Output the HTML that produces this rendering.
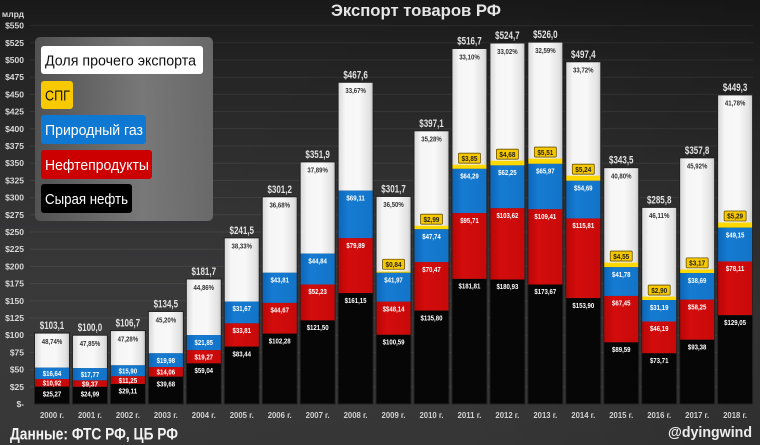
<!DOCTYPE html>
<html><head><meta charset="utf-8"><style>
html,body{margin:0;padding:0;background:#2a2a2a;}
svg{display:block;}
text{font-family:"Liberation Sans","DejaVu Sans",sans-serif;}
.s{font-size:7.5px;font-weight:bold;fill:#fff;text-anchor:middle;}
.p{font-size:7.5px;font-weight:bold;fill:#333;text-anchor:middle;}
.t{font-size:11px;font-weight:bold;fill:#e2e2e2;text-anchor:middle;}
.y{font-size:7.5px;font-weight:bold;fill:#222;text-anchor:middle;}
.ax{font-size:8.5px;font-weight:bold;fill:#d8d8d8;text-anchor:end;}
.yr{font-size:8.5px;font-weight:bold;fill:#d2d2d2;text-anchor:middle;}
.lg{font-size:15px;}
</style></head><body>
<svg width="760" height="445" viewBox="0 0 760 445" xmlns="http://www.w3.org/2000/svg">
<defs>
<linearGradient id="bg" x1="0" y1="0" x2="0" y2="1">
<stop offset="0" stop-color="#191919"/><stop offset="0.15" stop-color="#242424"/><stop offset="0.45" stop-color="#333334"/><stop offset="0.7" stop-color="#3a3a3b"/><stop offset="1" stop-color="#373737"/>
</linearGradient>
<linearGradient id="bgh" x1="0" y1="0" x2="1" y2="0">
<stop offset="0" stop-color="#000" stop-opacity="0"/><stop offset="0.6" stop-color="#000" stop-opacity="0.02"/><stop offset="1" stop-color="#000" stop-opacity="0.15"/>
</linearGradient>
<linearGradient id="gW" x1="0" y1="0" x2="1" y2="0">
<stop offset="0" stop-color="#d6d6d6"/><stop offset="0.2" stop-color="#f6f6f6"/><stop offset="0.6" stop-color="#f8f8f8"/><stop offset="0.9" stop-color="#e2e2e2"/><stop offset="1" stop-color="#c4c4c4"/>
</linearGradient>
<linearGradient id="gB" x1="0" y1="0" x2="1" y2="0">
<stop offset="0" stop-color="#0b66b8"/><stop offset="0.3" stop-color="#167bd2"/><stop offset="1" stop-color="#1274c8"/>
</linearGradient>
<linearGradient id="gR" x1="0" y1="0" x2="1" y2="0">
<stop offset="0" stop-color="#b80606"/><stop offset="0.3" stop-color="#d40c0c"/><stop offset="1" stop-color="#c80a0a"/>
</linearGradient>
<linearGradient id="gL" x1="0" y1="0" x2="1" y2="0">
<stop offset="0" stop-color="#545454"/><stop offset="0.6" stop-color="#7c7c7c"/><stop offset="1" stop-color="#6c6c6c"/>
</linearGradient>
</defs>
<rect x="0" y="0" width="760" height="445" fill="url(#bg)"/>
<rect x="0" y="0" width="760" height="445" fill="url(#bgh)"/>

<g stroke="#ffffff" stroke-opacity="0.07" stroke-width="1">
<line x1="30" x2="753" y1="386.8" y2="386.8"/><line x1="30" x2="753" y1="369.6" y2="369.6"/><line x1="30" x2="753" y1="352.4" y2="352.4"/><line x1="30" x2="753" y1="335.2" y2="335.2"/><line x1="30" x2="753" y1="318" y2="318"/><line x1="30" x2="753" y1="300.8" y2="300.8"/><line x1="30" x2="753" y1="283.6" y2="283.6"/><line x1="30" x2="753" y1="266.4" y2="266.4"/><line x1="30" x2="753" y1="249.2" y2="249.2"/><line x1="30" x2="753" y1="232" y2="232"/><line x1="30" x2="753" y1="214.8" y2="214.8"/><line x1="30" x2="753" y1="197.6" y2="197.6"/><line x1="30" x2="753" y1="180.4" y2="180.4"/><line x1="30" x2="753" y1="163.2" y2="163.2"/><line x1="30" x2="753" y1="146" y2="146"/><line x1="30" x2="753" y1="128.8" y2="128.8"/><line x1="30" x2="753" y1="111.6" y2="111.6"/><line x1="30" x2="753" y1="94.4" y2="94.4"/><line x1="30" x2="753" y1="77.2" y2="77.2"/><line x1="30" x2="753" y1="60" y2="60"/><line x1="30" x2="753" y1="42.8" y2="42.8"/><line x1="30" x2="753" y1="25.6" y2="25.6"/>
</g>

<!-- Y axis labels -->
<text class="ax" x="24" y="17">млрд</text>
<text class="ax" x="24" y="28.6">$550</text>
<text class="ax" x="24" y="45.8">$525</text>
<text class="ax" x="24" y="63">$500</text>
<text class="ax" x="24" y="80.2">$475</text>
<text class="ax" x="24" y="97.4">$450</text>
<text class="ax" x="24" y="114.6">$425</text>
<text class="ax" x="24" y="131.8">$400</text>
<text class="ax" x="24" y="149">$375</text>
<text class="ax" x="24" y="166.2">$350</text>
<text class="ax" x="24" y="183.4">$325</text>
<text class="ax" x="24" y="200.6">$300</text>
<text class="ax" x="24" y="217.8">$275</text>
<text class="ax" x="24" y="235">$250</text>
<text class="ax" x="24" y="252.2">$225</text>
<text class="ax" x="24" y="269.4">$200</text>
<text class="ax" x="24" y="286.6">$175</text>
<text class="ax" x="24" y="303.8">$150</text>
<text class="ax" x="24" y="321">$125</text>
<text class="ax" x="24" y="338.2">$100</text>
<text class="ax" x="24" y="355.4">$75</text>
<text class="ax" x="24" y="372.6">$50</text>
<text class="ax" x="24" y="389.8">$25</text>
<text class="ax" x="24" y="407">$-</text>

<!-- Title -->
<text x="331" y="16" font-size="17" font-weight="bold" fill="#e6e6e6" textLength="170" lengthAdjust="spacingAndGlyphs">Экспорт товаров РФ</text>

<!-- Bars -->
<g>
<!-- 2000 -->
<rect x="34.5" y="333.07" width="35" height="34.58" fill="url(#gW)"/>
<rect x="34.5" y="367.65" width="35" height="11.45" fill="url(#gB)"/>
<rect x="34.5" y="379.10" width="35" height="7.51" fill="url(#gR)"/>
<rect x="34.5" y="386.61" width="35" height="17.39" fill="#060606"/>
<rect x="34.5" y="333.07" width="35" height="70.93" fill="none" stroke="#222" stroke-width="1"/>
<!-- 2001 -->
<rect x="72.45" y="335.2" width="35" height="32.93" fill="url(#gW)"/>
<rect x="72.45" y="368.13" width="35" height="12.23" fill="url(#gB)"/>
<rect x="72.45" y="380.36" width="35" height="6.45" fill="url(#gR)"/>
<rect x="72.45" y="386.81" width="35" height="17.19" fill="#060606"/>
<rect x="72.45" y="335.2" width="35" height="68.8" fill="none" stroke="#222" stroke-width="1"/>
<!-- 2002 -->
<rect x="110.4" y="330.59" width="35" height="34.7" fill="url(#gW)"/>
<rect x="110.4" y="365.29" width="35" height="10.94" fill="url(#gB)"/>
<rect x="110.4" y="376.23" width="35" height="7.74" fill="url(#gR)"/>
<rect x="110.4" y="383.97" width="35" height="20.03" fill="#060606"/>
<rect x="110.4" y="330.59" width="35" height="73.41" fill="none" stroke="#222" stroke-width="1"/>
<!-- 2003 -->
<rect x="148.35" y="311.46" width="35" height="41.82" fill="url(#gW)"/>
<rect x="148.35" y="353.28" width="35" height="13.75" fill="url(#gB)"/>
<rect x="148.35" y="367.03" width="35" height="9.67" fill="url(#gR)"/>
<rect x="148.35" y="376.70" width="35" height="27.3" fill="#060606"/>
<rect x="148.35" y="311.46" width="35" height="92.54" fill="none" stroke="#222" stroke-width="1"/>
<!-- 2004 -->
<rect x="186.3" y="278.99" width="35" height="56.1" fill="url(#gW)"/>
<rect x="186.3" y="335.09" width="35" height="15.03" fill="url(#gB)"/>
<rect x="186.3" y="350.12" width="35" height="13.26" fill="url(#gR)"/>
<rect x="186.3" y="363.38" width="35" height="40.62" fill="#060606"/>
<rect x="186.3" y="278.99" width="35" height="125.01" fill="none" stroke="#222" stroke-width="1"/>
<!-- 2005 -->
<rect x="224.25" y="237.85" width="35" height="63.69" fill="url(#gW)"/>
<rect x="224.25" y="301.54" width="35" height="21.79" fill="url(#gB)"/>
<rect x="224.25" y="323.33" width="35" height="23.26" fill="url(#gR)"/>
<rect x="224.25" y="346.59" width="35" height="57.41" fill="#060606"/>
<rect x="224.25" y="237.85" width="35" height="166.15" fill="none" stroke="#222" stroke-width="1"/>
<!-- 2006 -->
<rect x="262.2" y="196.77" width="35" height="75.99" fill="url(#gW)"/>
<rect x="262.2" y="272.76" width="35" height="30.14" fill="url(#gB)"/>
<rect x="262.2" y="302.90" width="35" height="30.73" fill="url(#gR)"/>
<rect x="262.2" y="333.63" width="35" height="70.37" fill="#060606"/>
<rect x="262.2" y="196.77" width="35" height="207.23" fill="none" stroke="#222" stroke-width="1"/>
<!-- 2007 -->
<rect x="300.15" y="161.89" width="35" height="91.73" fill="url(#gW)"/>
<rect x="300.15" y="253.62" width="35" height="30.85" fill="url(#gB)"/>
<rect x="300.15" y="284.47" width="35" height="35.94" fill="url(#gR)"/>
<rect x="300.15" y="320.41" width="35" height="83.59" fill="#060606"/>
<rect x="300.15" y="161.89" width="35" height="242.11" fill="none" stroke="#222" stroke-width="1"/>
<!-- 2008 -->
<rect x="338.1" y="82.29" width="35" height="108.33" fill="url(#gW)"/>
<rect x="338.1" y="190.62" width="35" height="47.54" fill="url(#gB)"/>
<rect x="338.1" y="238.16" width="35" height="54.97" fill="url(#gR)"/>
<rect x="338.1" y="293.13" width="35" height="110.87" fill="#060606"/>
<rect x="338.1" y="82.29" width="35" height="321.71" fill="none" stroke="#222" stroke-width="1"/>
<!-- 2009 -->
<rect x="376.05" y="196.43" width="35" height="75.79" fill="url(#gW)"/>
<rect x="376.05" y="271.5" width="35" height="1.3" fill="#ffd800"/>
<rect x="376.05" y="272.80" width="35" height="28.87" fill="url(#gB)"/>
<rect x="376.05" y="301.67" width="35" height="33.12" fill="url(#gR)"/>
<rect x="376.05" y="334.79" width="35" height="69.21" fill="#060606"/>
<rect x="376.05" y="196.43" width="35" height="207.57" fill="none" stroke="#222" stroke-width="1"/>
<!-- 2010 -->
<rect x="414" y="130.80" width="35" height="96.38" fill="url(#gW)"/>
<rect x="414" y="225.7" width="35" height="3.54" fill="#ffd800"/>
<rect x="414" y="229.24" width="35" height="32.85" fill="url(#gB)"/>
<rect x="414" y="262.09" width="35" height="48.48" fill="url(#gR)"/>
<rect x="414" y="310.57" width="35" height="93.43" fill="#060606"/>
<rect x="414" y="130.80" width="35" height="273.2" fill="none" stroke="#222" stroke-width="1"/>
<!-- 2011 -->
<rect x="451.95" y="48.51" width="35" height="117.68" fill="url(#gW)"/>
<rect x="451.95" y="164.7" width="35" height="4.14" fill="#ffd800"/>
<rect x="451.95" y="168.84" width="35" height="44.23" fill="url(#gB)"/>
<rect x="451.95" y="213.07" width="35" height="65.84" fill="url(#gR)"/>
<rect x="451.95" y="278.91" width="35" height="125.09" fill="#060606"/>
<rect x="451.95" y="48.51" width="35" height="355.49" fill="none" stroke="#222" stroke-width="1"/>
<!-- 2012 -->
<rect x="489.9" y="43.0" width="35" height="119.18" fill="url(#gW)"/>
<rect x="489.9" y="160.7" width="35" height="4.7" fill="#ffd800"/>
<rect x="489.9" y="165.40" width="35" height="42.83" fill="url(#gB)"/>
<rect x="489.9" y="208.23" width="35" height="71.29" fill="url(#gR)"/>
<rect x="489.9" y="279.52" width="35" height="124.48" fill="#060606"/>
<rect x="489.9" y="43.0" width="35" height="361" fill="none" stroke="#222" stroke-width="1"/>
<!-- 2013 -->
<rect x="527.85" y="42.11" width="35" height="117.95" fill="url(#gW)"/>
<rect x="527.85" y="158.6" width="35" height="5.25" fill="#ffd800"/>
<rect x="527.85" y="163.85" width="35" height="45.39" fill="url(#gB)"/>
<rect x="527.85" y="209.24" width="35" height="75.27" fill="url(#gR)"/>
<rect x="527.85" y="284.51" width="35" height="119.49" fill="#060606"/>
<rect x="527.85" y="42.11" width="35" height="361.89" fill="none" stroke="#222" stroke-width="1"/>
<!-- 2014 -->
<rect x="565.8" y="61.79" width="35" height="115.42" fill="url(#gW)"/>
<rect x="565.8" y="175.7" width="35" height="5.11" fill="#ffd800"/>
<rect x="565.8" y="180.81" width="35" height="37.63" fill="url(#gB)"/>
<rect x="565.8" y="218.44" width="35" height="79.68" fill="url(#gR)"/>
<rect x="565.8" y="298.12" width="35" height="105.88" fill="#060606"/>
<rect x="565.8" y="61.79" width="35" height="342.21" fill="none" stroke="#222" stroke-width="1"/>
<!-- 2015 -->
<rect x="603.75" y="167.67" width="35" height="96.41" fill="url(#gW)"/>
<rect x="603.75" y="262.6" width="35" height="4.61" fill="#ffd800"/>
<rect x="603.75" y="267.21" width="35" height="28.75" fill="url(#gB)"/>
<rect x="603.75" y="295.96" width="35" height="46.4" fill="url(#gR)"/>
<rect x="603.75" y="342.36" width="35" height="61.64" fill="#060606"/>
<rect x="603.75" y="167.67" width="35" height="236.33" fill="none" stroke="#222" stroke-width="1"/>
<!-- 2016 -->
<rect x="641.7" y="207.37" width="35" height="90.68" fill="url(#gW)"/>
<rect x="641.7" y="296.6" width="35" height="3.45" fill="#ffd800"/>
<rect x="641.7" y="300.05" width="35" height="21.46" fill="url(#gB)"/>
<rect x="641.7" y="321.51" width="35" height="31.78" fill="url(#gR)"/>
<rect x="641.7" y="353.29" width="35" height="50.71" fill="#060606"/>
<rect x="641.7" y="207.37" width="35" height="196.63" fill="none" stroke="#222" stroke-width="1"/>
<!-- 2017 -->
<rect x="679.65" y="157.83" width="35" height="113.05" fill="url(#gW)"/>
<rect x="679.65" y="269.4" width="35" height="3.66" fill="#ffd800"/>
<rect x="679.65" y="273.06" width="35" height="26.62" fill="url(#gB)"/>
<rect x="679.65" y="299.68" width="35" height="40.07" fill="url(#gR)"/>
<rect x="679.65" y="339.75" width="35" height="64.25" fill="#060606"/>
<rect x="679.65" y="157.83" width="35" height="246.17" fill="none" stroke="#222" stroke-width="1"/>
<!-- 2018 -->
<rect x="717.6" y="94.88" width="35" height="129.14" fill="url(#gW)"/>
<rect x="717.6" y="222.5" width="35" height="5.16" fill="#ffd800"/>
<rect x="717.6" y="227.66" width="35" height="33.81" fill="url(#gB)"/>
<rect x="717.6" y="261.47" width="35" height="53.74" fill="url(#gR)"/>
<rect x="717.6" y="315.21" width="35" height="88.79" fill="#060606"/>
<rect x="717.6" y="94.88" width="35" height="309.12" fill="none" stroke="#222" stroke-width="1"/>
</g>

<!-- Yellow label boxes -->
<g fill="#f6c800" stroke="#6b5200" stroke-width="0.8">
<rect x="382.55" y="259.22" width="22" height="10" rx="1"/>
<rect x="420.5" y="214.18" width="22" height="10" rx="1"/>
<rect x="458.45" y="153.19" width="22" height="10" rx="1"/>
<rect x="496.4" y="149.18" width="22" height="10" rx="1"/>
<rect x="534.35" y="147.06" width="22" height="10" rx="1"/>
<rect x="572.3" y="164.21" width="22" height="10" rx="1"/>
<rect x="610.25" y="251.08" width="22" height="10" rx="1"/>
<rect x="648.2" y="285.05" width="22" height="10" rx="1"/>
<rect x="686.15" y="257.88" width="22" height="10" rx="1"/>
<rect x="724.1" y="211.02" width="22" height="10" rx="1"/>
</g>
<g lengthAdjust="spacingAndGlyphs">
<text class="y" x="393.55" y="266.92" textLength="16" lengthAdjust="spacingAndGlyphs">$0,84</text>
<text class="y" x="431.5" y="221.88" textLength="16" lengthAdjust="spacingAndGlyphs">$2,99</text>
<text class="y" x="469.45" y="160.89" textLength="16" lengthAdjust="spacingAndGlyphs">$3,85</text>
<text class="y" x="507.4" y="156.88" textLength="16" lengthAdjust="spacingAndGlyphs">$4,68</text>
<text class="y" x="545.35" y="154.76" textLength="16" lengthAdjust="spacingAndGlyphs">$5,51</text>
<text class="y" x="583.3" y="171.91" textLength="16" lengthAdjust="spacingAndGlyphs">$5,24</text>
<text class="y" x="621.25" y="258.78" textLength="16" lengthAdjust="spacingAndGlyphs">$4,55</text>
<text class="y" x="659.2" y="292.75" textLength="16" lengthAdjust="spacingAndGlyphs">$2,90</text>
<text class="y" x="697.15" y="265.58" textLength="16" lengthAdjust="spacingAndGlyphs">$3,17</text>
<text class="y" x="735.1" y="218.72" textLength="16" lengthAdjust="spacingAndGlyphs">$5,29</text>
</g>

<!-- Totals -->
<text class="t" x="52" y="329.1" textLength="24.5" lengthAdjust="spacingAndGlyphs">$103,1</text>
<text class="t" x="89.95" y="331.2" textLength="24.5" lengthAdjust="spacingAndGlyphs">$100,0</text>
<text class="t" x="127.9" y="326.6" textLength="24.5" lengthAdjust="spacingAndGlyphs">$106,7</text>
<text class="t" x="165.85" y="307.46" textLength="24.5" lengthAdjust="spacingAndGlyphs">$134,5</text>
<text class="t" x="203.8" y="274.99" textLength="24.5" lengthAdjust="spacingAndGlyphs">$181,7</text>
<text class="t" x="241.75" y="233.85" textLength="24.5" lengthAdjust="spacingAndGlyphs">$241,5</text>
<text class="t" x="279.7" y="192.77" textLength="24.5" lengthAdjust="spacingAndGlyphs">$301,2</text>
<text class="t" x="317.65" y="157.89" textLength="24.5" lengthAdjust="spacingAndGlyphs">$351,9</text>
<text class="t" x="355.6" y="78.29" textLength="24.5" lengthAdjust="spacingAndGlyphs">$467,6</text>
<text class="t" x="393.55" y="192.43" textLength="24.5" lengthAdjust="spacingAndGlyphs">$301,7</text>
<text class="t" x="431.5" y="126.8" textLength="24.5" lengthAdjust="spacingAndGlyphs">$397,1</text>
<text class="t" x="469.45" y="44.51" textLength="24.5" lengthAdjust="spacingAndGlyphs">$516,7</text>
<text class="t" x="507.4" y="39" textLength="24.5" lengthAdjust="spacingAndGlyphs">$524,7</text>
<text class="t" x="545.35" y="38.11" textLength="24.5" lengthAdjust="spacingAndGlyphs">$526,0</text>
<text class="t" x="583.3" y="57.79" textLength="24.5" lengthAdjust="spacingAndGlyphs">$497,4</text>
<text class="t" x="621.25" y="163.67" textLength="24.5" lengthAdjust="spacingAndGlyphs">$343,5</text>
<text class="t" x="659.2" y="203.37" textLength="24.5" lengthAdjust="spacingAndGlyphs">$285,8</text>
<text class="t" x="697.15" y="153.83" textLength="24.5" lengthAdjust="spacingAndGlyphs">$357,8</text>
<text class="t" x="735.1" y="90.88" textLength="24.5" lengthAdjust="spacingAndGlyphs">$449,3</text>

<!-- Percentages -->
<text class="p" x="52" y="343.9" textLength="20.5" lengthAdjust="spacingAndGlyphs">48,74%</text>
<text class="p" x="89.95" y="346" textLength="20.5" lengthAdjust="spacingAndGlyphs">47,85%</text>
<text class="p" x="127.9" y="341.4" textLength="20.5" lengthAdjust="spacingAndGlyphs">47,28%</text>
<text class="p" x="165.85" y="322.26" textLength="20.5" lengthAdjust="spacingAndGlyphs">45,20%</text>
<text class="p" x="203.8" y="289.79" textLength="20.5" lengthAdjust="spacingAndGlyphs">44,86%</text>
<text class="p" x="241.75" y="248.65" textLength="20.5" lengthAdjust="spacingAndGlyphs">38,33%</text>
<text class="p" x="279.7" y="207.57" textLength="20.5" lengthAdjust="spacingAndGlyphs">36,68%</text>
<text class="p" x="317.65" y="172.69" textLength="20.5" lengthAdjust="spacingAndGlyphs">37,89%</text>
<text class="p" x="355.6" y="93.09" textLength="20.5" lengthAdjust="spacingAndGlyphs">33,67%</text>
<text class="p" x="393.55" y="207.23" textLength="20.5" lengthAdjust="spacingAndGlyphs">36,50%</text>
<text class="p" x="431.5" y="141.6" textLength="20.5" lengthAdjust="spacingAndGlyphs">35,28%</text>
<text class="p" x="469.45" y="59.31" textLength="20.5" lengthAdjust="spacingAndGlyphs">33,10%</text>
<text class="p" x="507.4" y="53.8" textLength="20.5" lengthAdjust="spacingAndGlyphs">33,02%</text>
<text class="p" x="545.35" y="52.91" textLength="20.5" lengthAdjust="spacingAndGlyphs">32,59%</text>
<text class="p" x="583.3" y="72.59" textLength="20.5" lengthAdjust="spacingAndGlyphs">33,72%</text>
<text class="p" x="621.25" y="178.47" textLength="20.5" lengthAdjust="spacingAndGlyphs">40,80%</text>
<text class="p" x="659.2" y="218.17" textLength="20.5" lengthAdjust="spacingAndGlyphs">46,11%</text>
<text class="p" x="697.15" y="168.63" textLength="20.5" lengthAdjust="spacingAndGlyphs">45,92%</text>
<text class="p" x="735.1" y="105.68" textLength="20.5" lengthAdjust="spacingAndGlyphs">41,78%</text>

<!-- Blue labels -->
<text class="s" x="52" y="376.07" textLength="18.5" lengthAdjust="spacingAndGlyphs">$16,64</text>
<text class="s" x="89.95" y="376.95" textLength="18.5" lengthAdjust="spacingAndGlyphs">$17,77</text>
<text class="s" x="127.9" y="373.46" textLength="18.5" lengthAdjust="spacingAndGlyphs">$15,90</text>
<text class="s" x="165.85" y="362.86" textLength="18.5" lengthAdjust="spacingAndGlyphs">$19,98</text>
<text class="s" x="203.8" y="344.79" textLength="18.5" lengthAdjust="spacingAndGlyphs">$21,85</text>
<text class="s" x="241.75" y="311.24" textLength="18.5" lengthAdjust="spacingAndGlyphs">$31,67</text>
<text class="s" x="279.7" y="282.46" textLength="18.5" lengthAdjust="spacingAndGlyphs">$43,81</text>
<text class="s" x="317.65" y="263.32" textLength="18.5" lengthAdjust="spacingAndGlyphs">$44,84</text>
<text class="s" x="355.6" y="200.32" textLength="18.5" lengthAdjust="spacingAndGlyphs">$69,11</text>
<text class="s" x="393.55" y="282.5" textLength="18.5" lengthAdjust="spacingAndGlyphs">$41,97</text>
<text class="s" x="431.5" y="238.94" textLength="18.5" lengthAdjust="spacingAndGlyphs">$47,74</text>
<text class="s" x="469.45" y="178.54" textLength="18.5" lengthAdjust="spacingAndGlyphs">$64,29</text>
<text class="s" x="507.4" y="175.1" textLength="18.5" lengthAdjust="spacingAndGlyphs">$62,25</text>
<text class="s" x="545.35" y="173.55" textLength="18.5" lengthAdjust="spacingAndGlyphs">$65,97</text>
<text class="s" x="583.3" y="190.51" textLength="18.5" lengthAdjust="spacingAndGlyphs">$54,69</text>
<text class="s" x="621.25" y="276.91" textLength="18.5" lengthAdjust="spacingAndGlyphs">$41,78</text>
<text class="s" x="659.2" y="309.75" textLength="18.5" lengthAdjust="spacingAndGlyphs">$31,19</text>
<text class="s" x="697.15" y="282.76" textLength="18.5" lengthAdjust="spacingAndGlyphs">$38,69</text>
<text class="s" x="735.1" y="237.36" textLength="18.5" lengthAdjust="spacingAndGlyphs">$49,15</text>

<!-- Red labels -->
<text class="s" x="52" y="385.56" textLength="18.5" lengthAdjust="spacingAndGlyphs">$10,92</text>
<text class="s" x="89.95" y="386.28" textLength="16" lengthAdjust="spacingAndGlyphs">$9,37</text>
<text class="s" x="127.9" y="382.8" textLength="18.5" lengthAdjust="spacingAndGlyphs">$11,25</text>
<text class="s" x="165.85" y="374.57" textLength="18.5" lengthAdjust="spacingAndGlyphs">$14,06</text>
<text class="s" x="203.8" y="359.45" textLength="18.5" lengthAdjust="spacingAndGlyphs">$19,27</text>
<text class="s" x="241.75" y="333.03" textLength="18.5" lengthAdjust="spacingAndGlyphs">$33,81</text>
<text class="s" x="279.7" y="312.6" textLength="18.5" lengthAdjust="spacingAndGlyphs">$44,67</text>
<text class="s" x="317.65" y="294.17" textLength="18.5" lengthAdjust="spacingAndGlyphs">$52,23</text>
<text class="s" x="355.6" y="247.86" textLength="18.5" lengthAdjust="spacingAndGlyphs">$79,89</text>
<text class="s" x="393.55" y="311.37" textLength="21.9" lengthAdjust="spacingAndGlyphs">$$48,14</text>
<text class="s" x="431.5" y="271.79" textLength="18.5" lengthAdjust="spacingAndGlyphs">$70,47</text>
<text class="s" x="469.45" y="222.77" textLength="18.5" lengthAdjust="spacingAndGlyphs">$95,71</text>
<text class="s" x="507.4" y="217.93" textLength="21.9" lengthAdjust="spacingAndGlyphs">$103,62</text>
<text class="s" x="545.35" y="218.94" textLength="21.9" lengthAdjust="spacingAndGlyphs">$109,41</text>
<text class="s" x="583.3" y="228.14" textLength="21.9" lengthAdjust="spacingAndGlyphs">$115,81</text>
<text class="s" x="621.25" y="305.66" textLength="18.5" lengthAdjust="spacingAndGlyphs">$67,45</text>
<text class="s" x="659.2" y="331.21" textLength="18.5" lengthAdjust="spacingAndGlyphs">$46,19</text>
<text class="s" x="697.15" y="309.38" textLength="18.5" lengthAdjust="spacingAndGlyphs">$58,25</text>
<text class="s" x="735.1" y="271.17" textLength="18.5" lengthAdjust="spacingAndGlyphs">$78,11</text>

<!-- Black labels -->
<text class="s" x="52" y="396.3" textLength="18.5" lengthAdjust="spacingAndGlyphs">$25,27</text>
<text class="s" x="89.95" y="396.5" textLength="18.5" lengthAdjust="spacingAndGlyphs">$24,99</text>
<text class="s" x="127.9" y="393.67" textLength="18.5" lengthAdjust="spacingAndGlyphs">$29,11</text>
<text class="s" x="165.85" y="386.4" textLength="18.5" lengthAdjust="spacingAndGlyphs">$39,68</text>
<text class="s" x="203.8" y="373.08" textLength="18.5" lengthAdjust="spacingAndGlyphs">$59,04</text>
<text class="s" x="241.75" y="356.29" textLength="18.5" lengthAdjust="spacingAndGlyphs">$83,44</text>
<text class="s" x="279.7" y="343.33" textLength="21.9" lengthAdjust="spacingAndGlyphs">$102,28</text>
<text class="s" x="317.65" y="330.11" textLength="21.9" lengthAdjust="spacingAndGlyphs">$121,50</text>
<text class="s" x="355.6" y="302.83" textLength="21.9" lengthAdjust="spacingAndGlyphs">$161,15</text>
<text class="s" x="393.55" y="344.49" textLength="21.9" lengthAdjust="spacingAndGlyphs">$100,59</text>
<text class="s" x="431.5" y="320.27" textLength="21.9" lengthAdjust="spacingAndGlyphs">$135,80</text>
<text class="s" x="469.45" y="288.61" textLength="21.9" lengthAdjust="spacingAndGlyphs">$181,81</text>
<text class="s" x="507.4" y="289.22" textLength="21.9" lengthAdjust="spacingAndGlyphs">$180,93</text>
<text class="s" x="545.35" y="294.21" textLength="21.9" lengthAdjust="spacingAndGlyphs">$173,67</text>
<text class="s" x="583.3" y="307.82" textLength="21.9" lengthAdjust="spacingAndGlyphs">$153,90</text>
<text class="s" x="621.25" y="352.06" textLength="18.5" lengthAdjust="spacingAndGlyphs">$89,59</text>
<text class="s" x="659.2" y="362.99" textLength="18.5" lengthAdjust="spacingAndGlyphs">$73,71</text>
<text class="s" x="697.15" y="349.45" textLength="18.5" lengthAdjust="spacingAndGlyphs">$93,38</text>
<text class="s" x="735.1" y="324.91" textLength="21.9" lengthAdjust="spacingAndGlyphs">$129,05</text>

<!-- Year labels -->
<text class="yr" x="52" y="418" textLength="24" lengthAdjust="spacingAndGlyphs">2000 г.</text>
<text class="yr" x="89.95" y="418" textLength="24" lengthAdjust="spacingAndGlyphs">2001 г.</text>
<text class="yr" x="127.9" y="418" textLength="24" lengthAdjust="spacingAndGlyphs">2002 г.</text>
<text class="yr" x="165.85" y="418" textLength="24" lengthAdjust="spacingAndGlyphs">2003 г.</text>
<text class="yr" x="203.8" y="418" textLength="24" lengthAdjust="spacingAndGlyphs">2004 г.</text>
<text class="yr" x="241.75" y="418" textLength="24" lengthAdjust="spacingAndGlyphs">2005 г.</text>
<text class="yr" x="279.7" y="418" textLength="24" lengthAdjust="spacingAndGlyphs">2006 г.</text>
<text class="yr" x="317.65" y="418" textLength="24" lengthAdjust="spacingAndGlyphs">2007 г.</text>
<text class="yr" x="355.6" y="418" textLength="24" lengthAdjust="spacingAndGlyphs">2008 г.</text>
<text class="yr" x="393.55" y="418" textLength="24" lengthAdjust="spacingAndGlyphs">2009 г.</text>
<text class="yr" x="431.5" y="418" textLength="24" lengthAdjust="spacingAndGlyphs">2010 г.</text>
<text class="yr" x="469.45" y="418" textLength="24" lengthAdjust="spacingAndGlyphs">2011 г.</text>
<text class="yr" x="507.4" y="418" textLength="24" lengthAdjust="spacingAndGlyphs">2012 г.</text>
<text class="yr" x="545.35" y="418" textLength="24" lengthAdjust="spacingAndGlyphs">2013 г.</text>
<text class="yr" x="583.3" y="418" textLength="24" lengthAdjust="spacingAndGlyphs">2014 г.</text>
<text class="yr" x="621.25" y="418" textLength="24" lengthAdjust="spacingAndGlyphs">2015 г.</text>
<text class="yr" x="659.2" y="418" textLength="24" lengthAdjust="spacingAndGlyphs">2016 г.</text>
<text class="yr" x="697.15" y="418" textLength="24" lengthAdjust="spacingAndGlyphs">2017 г.</text>
<text class="yr" x="735.1" y="418" textLength="24" lengthAdjust="spacingAndGlyphs">2018 г.</text>

<!-- Legend -->
<rect x="35" y="37" width="178" height="184" rx="5" fill="url(#gL)" fill-opacity="0.95"/>
<rect x="41" y="46" width="162" height="28" rx="3" fill="#ffffff"/>
<text class="lg" x="45" y="65.5" fill="#111" textLength="151" lengthAdjust="spacingAndGlyphs">Доля прочего экспорта</text>
<rect x="41" y="81" width="32" height="28" rx="3" fill="#f8c800"/>
<text class="lg" x="45" y="100.5" fill="#111" textLength="25" lengthAdjust="spacingAndGlyphs">СПГ</text>
<rect x="41" y="115" width="105" height="29" rx="3" fill="#0f78d2"/>
<text class="lg" x="45" y="135" fill="#fff" textLength="98" lengthAdjust="spacingAndGlyphs">Природный газ</text>
<rect x="41" y="150" width="111" height="29" rx="3" fill="#cc0000"/>
<text class="lg" x="45" y="170" fill="#fff" textLength="104" lengthAdjust="spacingAndGlyphs">Нефтепродукты</text>
<rect x="41" y="184" width="91" height="29" rx="3" fill="#000000"/>
<text class="lg" x="45" y="204" fill="#fff" textLength="83" lengthAdjust="spacingAndGlyphs">Сырая нефть</text>

<!-- Footer -->
<text x="10" y="439.5" font-size="17" font-weight="bold" fill="#f2f2f2" textLength="168" lengthAdjust="spacingAndGlyphs">Данные: ФТС РФ, ЦБ РФ</text>
<text x="668" y="437" font-size="15" font-weight="bold" fill="#ececec" textLength="84" lengthAdjust="spacingAndGlyphs">@dyingwind</text>
</svg>
</body></html>
